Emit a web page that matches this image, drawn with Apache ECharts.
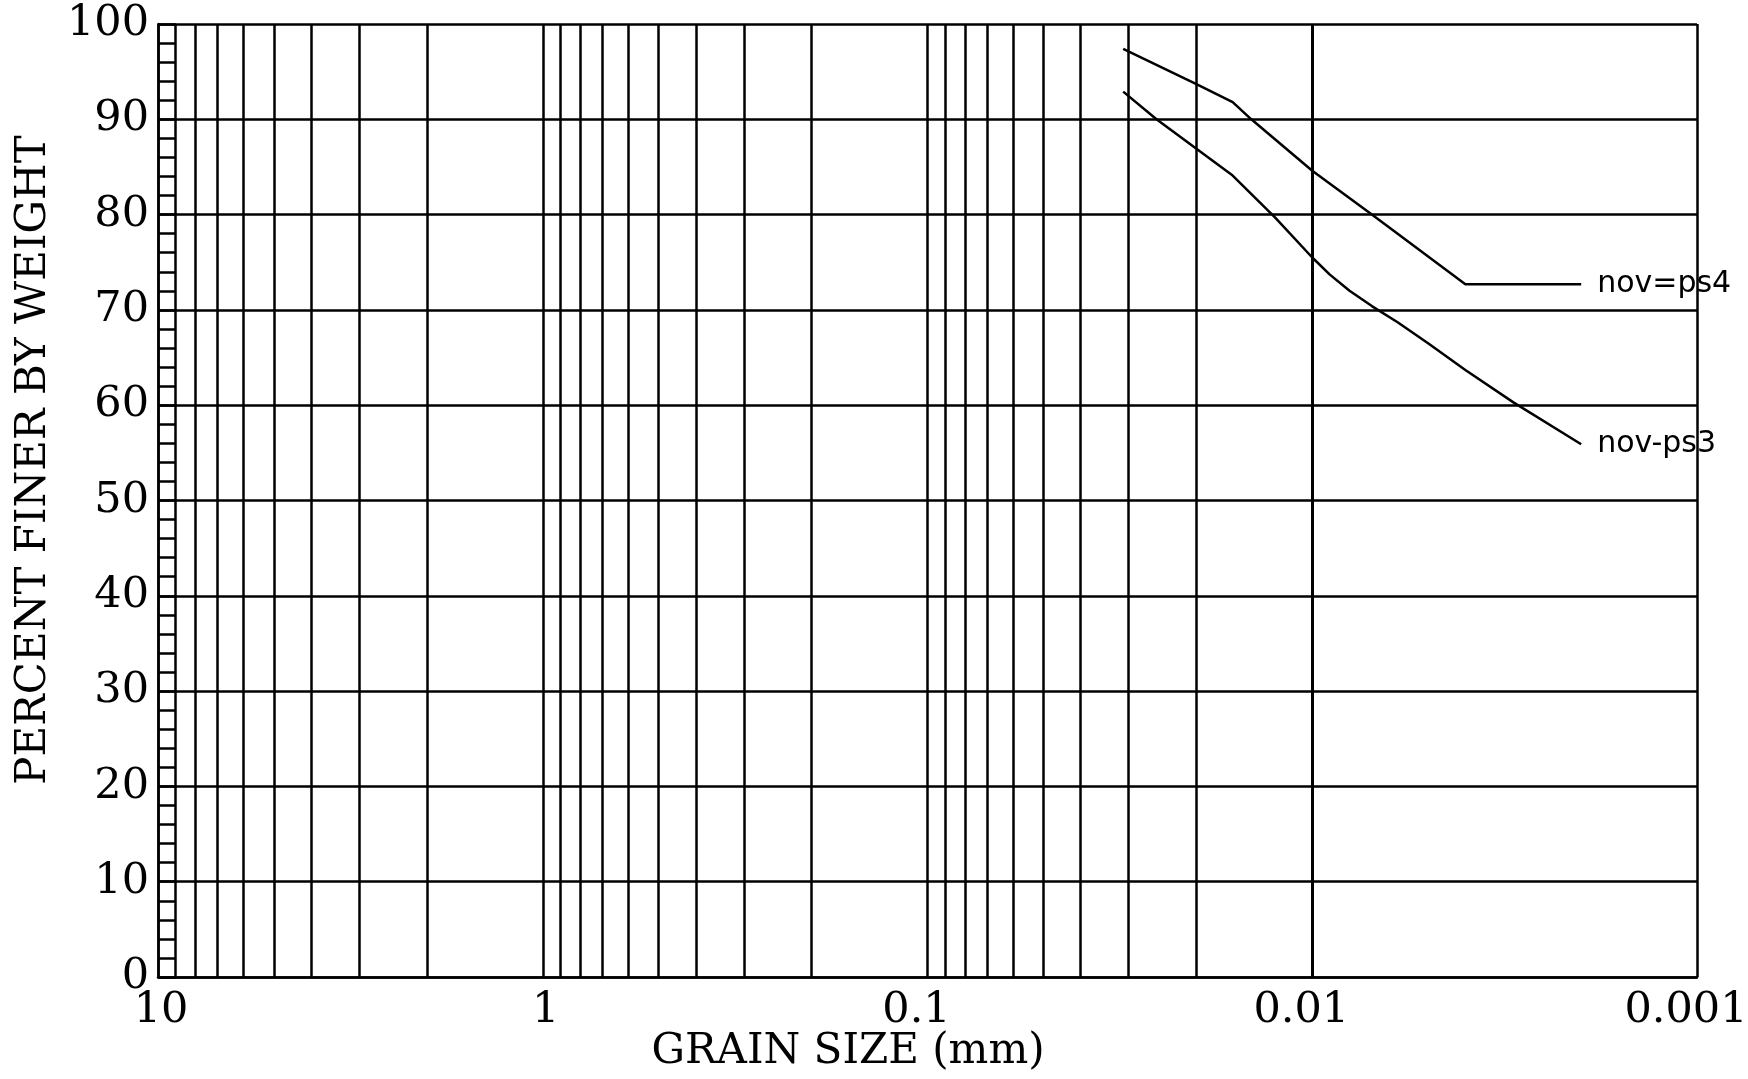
<!DOCTYPE html>
<html><head><meta charset="utf-8">
<script src="https://cdn.jsdelivr.net/npm/echarts@6/dist/echarts.min.js"></script>
<style>html,body{margin:0;padding:0;background:#fff}#c{width:1748px;height:1079px}</style>
</head><body><div id="c"></div>
<script>
// Tick labels
const xTickLabels = ['10', '1', '0.1', '0.01', '0.001'];
const yTickLabels = ['0', '10', '20', '30', '40', '50', '60', '70', '80', '90', '100'];
// Intermediate log grid lines (mm)
const minorGridSizes = [9, 8, 7, 6, 5, 4, 3, 2,
  0.9, 0.8, 0.7, 0.6, 0.5, 0.4, 0.3, 0.2,
  0.09, 0.08, 0.07, 0.06, 0.05, 0.04, 0.03, 0.02,
  0.009, 0.008, 0.007, 0.006, 0.005, 0.004, 0.003, 0.002];
// Series: grain size (mm) and percent finer
const seriesNames = ['nov=ps4', 'nov-ps3'];
const ps4Size = [0.031, 0.02, 0.0161, 0.0144, 0.01, 0.007, 0.004, 0.002];
const ps4Finer = [97.4, 93.7, 91.8, 90.0, 84.6, 80.0, 72.7, 72.7];
const ps3Size = [0.031, 0.0254, 0.02, 0.0161, 0.0125, 0.01, 0.009, 0.008, 0.007, 0.006, 0.005, 0.004, 0.003, 0.002];
const ps3Finer = [92.9, 90.0, 86.9, 84.1, 79.7, 75.5, 73.7, 72.0, 70.4, 68.7, 66.5, 63.7, 60.3, 55.9];

const pairs = (xs, ys) => xs.map((x, i) => [x, ys[i]]);
const serif = '"DejaVu Serif", "Liberation Serif", serif';
const lineLabel = {
  show: true, formatter: '{a}', distance: -16, align: 'left', verticalAlign: 'middle', color: '#000',
  fontFamily: '"DejaVu Sans", sans-serif', fontSize: 30
};
const ink = {color: '#000', width: 2.5};
const tickFont = {color: '#000', fontFamily: serif, fontSize: 43};

const chart = echarts.init(document.getElementById('c'), null, {renderer: 'canvas'});
chart.setOption({
  animation: false,
  backgroundColor: '#fff',
  grid: {left: 158, right: 51, top: 24, bottom: 102, containLabel: false, outerBoundsMode: 'none'},
  xAxis: {
    type: 'log', logBase: 10, min: 0.001, max: 10, inverse: true,
    axisLine: {show: true, lineStyle: ink},
    axisTick: {show: false},
    axisLabel: {
      color: '#000', fontFamily: serif, fontSize: 43, margin: 12,
      formatter: v => {
        const t = xTickLabels[Math.round(1 - Math.log10(v))];
        return t.indexOf('.') >= 0 ? '{d|' + t + '}' : '{w|' + t + '}';
      },
      rich: {
        d: Object.assign({padding: [0, 22, 0, 0]}, tickFont),
        w: Object.assign({padding: [0, 0, 0, 6]}, tickFont)
      }
    },
    splitLine: {show: true, lineStyle: ink}
  },
  yAxis: {
    type: 'value', min: 0, max: 100, interval: 10,
    axisLine: {show: true, lineStyle: ink},
    axisTick: {show: true, inside: true, length: 18, lineStyle: ink},
    minorTick: {show: true, splitNumber: 5, length: 18, lineStyle: ink},
    axisLabel: {
      color: '#000', fontFamily: serif, fontSize: 43, margin: 9,
      formatter: v => yTickLabels[Math.round(v / 10)]
    },
    splitLine: {show: true, lineStyle: ink}
  },
  graphic: [
    {type: 'text', x: 34, y: 460, rotation: Math.PI / 2, silent: true,
     style: {text: 'PERCENT FINER BY WEIGHT', fill: '#000', font: '42px ' + serif, align: 'center', verticalAlign: 'middle'}},
    {type: 'text', x: 848, y: 1052, silent: true,
     style: {text: 'GRAIN SIZE (mm)', fill: '#000', font: '42px ' + serif, align: 'center', verticalAlign: 'middle'}}
  ],
  series: [
    {
      name: seriesNames[0], type: 'line', data: pairs(ps4Size, ps4Finer),
      showSymbol: false, symbol: 'none', silent: true,
      lineStyle: ink,
      endLabel: lineLabel,
      markLine: {
        silent: true, symbol: ['none', 'none'], label: {show: false},
        lineStyle: {color: '#000', width: 2.5, type: 'solid'},
        emphasis: {disabled: true},
        data: minorGridSizes.map(v => ({xAxis: v}))
      }
    },
    {
      name: seriesNames[1], type: 'line', data: pairs(ps3Size, ps3Finer),
      showSymbol: false, symbol: 'none', silent: true,
      lineStyle: ink,
      endLabel: lineLabel
    }
  ]
});
</script>
</body></html>
